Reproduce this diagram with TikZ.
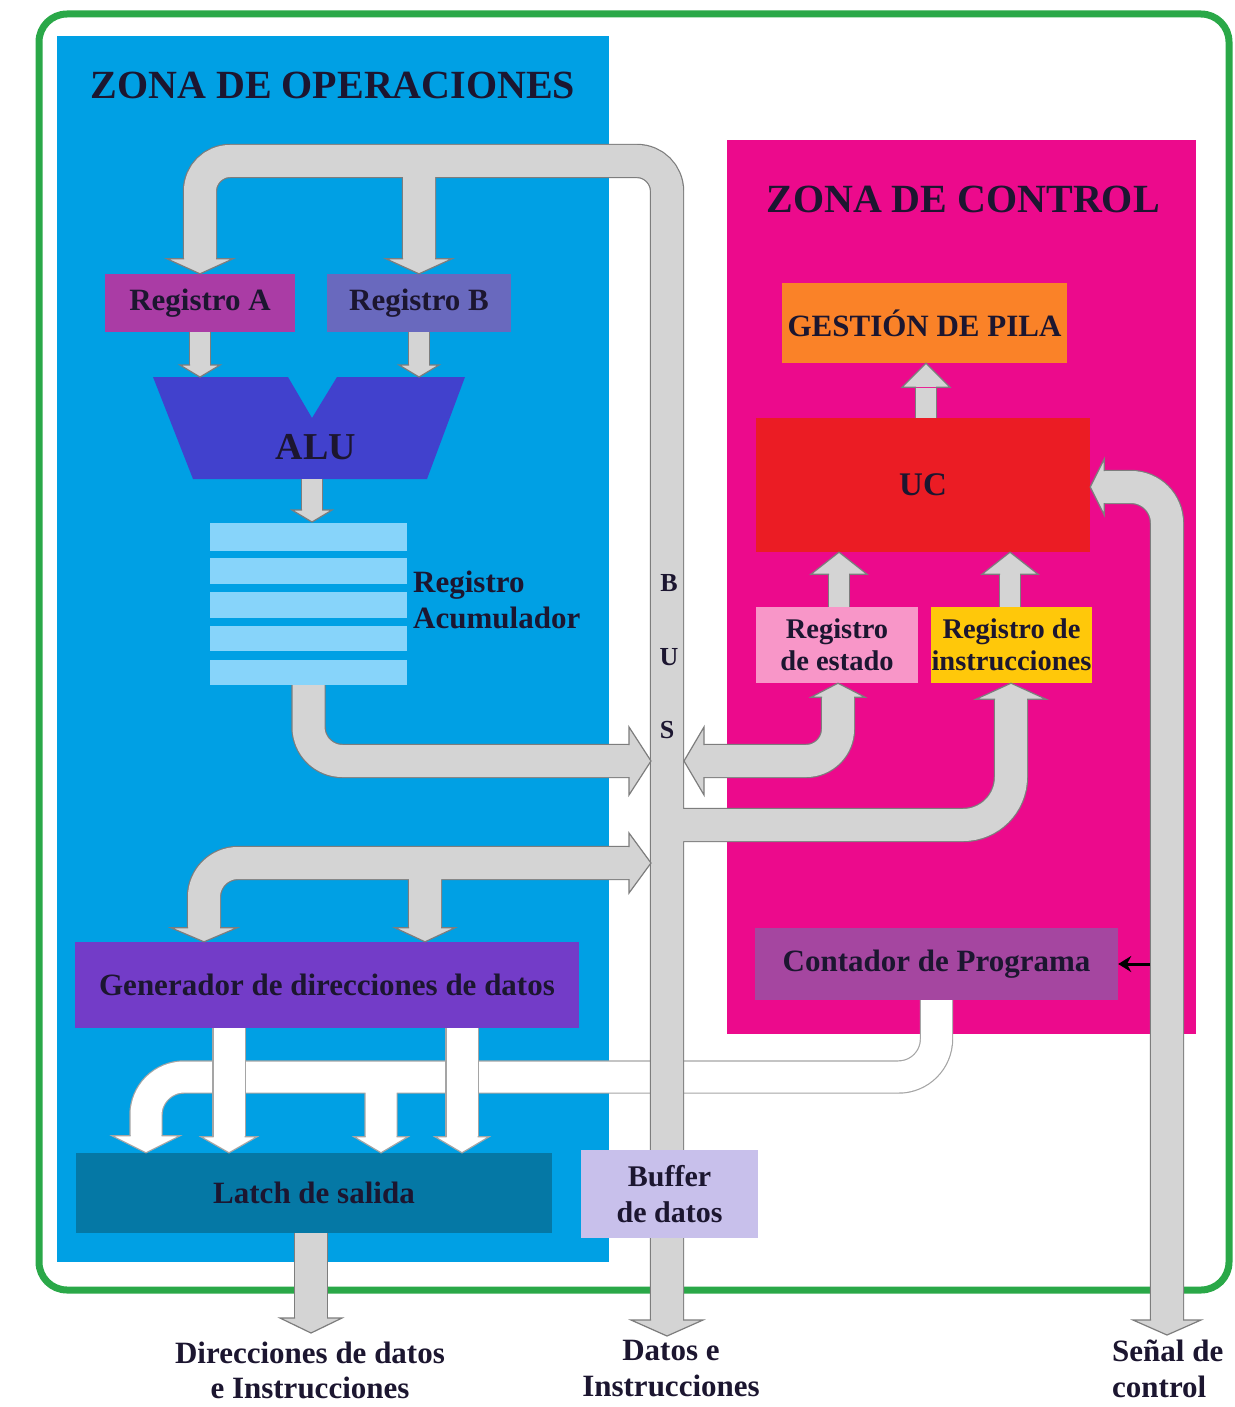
\documentclass[tikz,border=0pt]{standalone}
\usepackage{fontspec}
\setmainfont{Liberation Serif}
\usetikzlibrary{arrows.meta}

\definecolor{frame}{RGB}{42,168,72}
\definecolor{opzone}{RGB}{0,160,228}
\definecolor{ctrlzone}{RGB}{236,10,140}
\definecolor{regAcol}{RGB}{170,60,165}
\definecolor{regBcol}{RGB}{105,105,190}
\definecolor{alucol}{RGB}{65,65,205}
\definecolor{acccol}{RGB}{135,212,250}
\definecolor{gencol}{RGB}{115,60,200}
\definecolor{latchcol}{RGB}{5,120,165}
\definecolor{bufcol}{RGB}{200,192,235}
\definecolor{pilacol}{RGB}{250,130,40}
\definecolor{uccol}{RGB}{235,28,36}
\definecolor{estcol}{RGB}{248,150,200}
\definecolor{inscol}{RGB}{255,200,10}
\definecolor{pccol}{RGB}{165,70,160}
\definecolor{busgray}{RGB}{212,212,212}
\definecolor{busedge}{RGB}{125,125,125}
\definecolor{wedge}{RGB}{165,165,165}
\definecolor{ink}{RGB}{28,22,48}

\newcommand\setfs[2]{\fontsize{#1}{#2}\selectfont\bfseries}

\tikzset{
  hw/.store in=\ahw, hl/.store in=\ahl, sw/.store in=\asw,
  hfill/.store in=\ahfill, hedge/.store in=\ahedge,
  hw=32, hl=16, sw=16, hfill=busgray, hedge=busedge,
  % block arrow head: tip at the origin, pointing down
  ahead/.pic={
    \fill[fill=\ahfill] (0,0) -- (-\ahw,-\ahl) -- (\ahw,-\ahl) -- cycle;
    \draw[draw=\ahedge, line width=1.2pt, line join=miter]
      (-\asw,-\ahl) -- (-\ahw,-\ahl) -- (0,0) -- (\ahw,-\ahl) -- (\asw,-\ahl);
  },
  whitehead/.style={hfill=white, hedge=wedge, sw=15.5},
  thinhead/.style={sw=10},
  pipe/.style={draw=busedge, line width=34.4pt, postaction={draw=busgray, line width=32pt}},
  thinpipe/.style={draw=busedge, line width=22.4pt, postaction={draw=busgray, line width=20pt}},
  whitepipe/.style={draw=wedge, line width=33.4pt, postaction={draw=white, line width=31pt}},
  box/.style={rectangle, inner sep=0pt, align=center, text=ink, font=\setfs{31}{36}},
  txt/.style={inner sep=0pt, align=center, text=ink, font=\setfs{31}{36}},
}

\begin{document}
\begin{tikzpicture}[x=1pt, y=-1pt]
\useasboundingbox (0,0) rectangle (1234,1407);
\fill[white] (0,0) rectangle (1234,1407);
\draw[frame, line width=7pt, rounded corners=28pt] (39,14) rectangle (1229,1290);

% zones
\node[fill=opzone, minimum width=552pt, minimum height=1226pt, inner sep=0pt] (ops) at (333,649) {};
\node[fill=ctrlzone, minimum width=469pt, minimum height=894pt, inner sep=0pt] (ctrl) at (961.5,587) {};
\node[txt, font=\setfs{40}{44}] (t1) at (333,85) {ZONA DE OPERACIONES};
\node[txt, font=\setfs{40}{44}] (t2) at (963,199) {ZONA DE CONTROL};

% operation blocks
\node[box, fill=regAcol, minimum width=190pt, minimum height=58pt] (ra) at (200,303) {Registro A};
\node[box, fill=regBcol, minimum width=184pt, minimum height=58pt] (rb) at (419,303) {Registro B};
\fill[alucol] (153,377) -- (288,377) -- (312,418) -- (337,377) -- (465,377) -- (427,479) -- (193,479) -- cycle;
\node[txt, font=\setfs{38}{42}] (alu) at (316,447) {ALU};
\foreach \ya/\yb in {523/551, 558/584, 592/618, 626/651, 660/685}
  \fill[acccol] (210,\ya) rectangle (407,\yb);
\node[inner sep=0pt, minimum width=197pt, minimum height=162pt] (acc) at (308.5,604) {};
\node[txt, align=left, anchor=west] (acclbl) at (413,600) {Registro\\Acumulador};
\node[box, fill=gencol, minimum width=504pt, minimum height=86pt] (gen) at (327,985) {Generador de direcciones de datos};
\node[box, fill=latchcol, minimum width=476pt, minimum height=80pt] (latch) at (314,1193) {Latch de salida};

% control blocks
\node[box, fill=pilacol, minimum width=285pt, minimum height=80pt] (pila) at (924.5,323) {GESTIÓN DE PILA};
\node[box, fill=uccol, minimum width=334pt, minimum height=134pt, font=\setfs{33}{36}] (uc) at (923,485) {UC};
\node[box, fill=estcol, minimum width=162pt, minimum height=76pt, font=\setfs{28.5}{32}] (est) at (837,645) {Registro\\de estado};
\node[box, fill=inscol, minimum width=161pt, minimum height=76pt, font=\setfs{28.5}{32}] (ins) at (1011.5,645) {Registro de\\instrucciones};
\node[box, fill=pccol, minimum width=363pt, minimum height=72pt] (pc) at (936.5,964) {Contador de Programa};

% white address paths into the output latch
\draw[whitepipe, rounded corners=38pt] (pc.south) |- (146,1077) -- (146,1137)
      (381,1077) -- (381,1137);
\draw[whitepipe] (229,0 |- gen.south) -- (229,1137) (462,0 |- gen.south) -- (462,1137);
\pic[whitehead, hw=34, hl=17] at (146,0 |- latch.north) {ahead};
\pic[whitehead, hw=27, hl=16] at (381,0 |- latch.north) {ahead};
\pic[whitehead, hw=28, hl=16] at (229,0 |- latch.north) {ahead};
\pic[whitehead, hw=27, hl=16] at (462,0 |- latch.north) {ahead};

% data bus with its branches
\draw[pipe, rounded corners=30pt] (ra.north |- 0,260) |- (667,161) -- (667,1322)
      (rb.north |- 0,161) -- (rb.north |- 0,260)
      (667,825) [rounded corners=48pt] -- (1011,825) -- (1011,698);
\pic[hw=33, hl=15] at (ra.north) {ahead};
\pic[hw=33, hl=15] at (rb.north) {ahead};
\pic[hw=36, hl=16] at (667,1336) {ahead};
\pic[rotate=180, hw=35, hl=16] at (1011,0 |- ins.south) {ahead};

% accumulator to bus
\draw[pipe, rounded corners=34pt] (acc.south) |- (630,761);
\pic[rotate=90, hw=34, hl=22] at (651,761) {ahead};

% bus to status register
\draw[pipe, rounded corners=32pt] (704,761) -| (838,697);
\pic[rotate=-90, hw=34, hl=20] at (684,761) {ahead};
\pic[rotate=180, hw=27, hl=14] at (838,0 |- est.south) {ahead};

% bus to data address generator
\draw[pipe, rounded corners=34pt] (630,863) -| (204,928) (425,863) -- (425,928);
\pic[rotate=90, hw=30, hl=22] at (651,863) {ahead};
\pic[hw=33, hl=14] at (204,0 |- gen.north) {ahead};
\pic[hw=30, hl=14] at (425,0 |- gen.north) {ahead};

% short internal transfers
\draw[thinpipe] (ra.south) -- (200,366) (rb.south) -- (419,366) (312,479) -- (312,510)
      (926,0 |- uc.north) -- (926,388)
      (839,0 |- est.north) -- (839,574) (1010,0 |- ins.north) -- (1010,574);
\pic[thinhead, hw=20, hl=12] at (200,377) {ahead};
\pic[thinhead, hw=20, hl=12] at (419,377) {ahead};
\pic[thinhead, hw=20, hl=12] at (312,522) {ahead};
\pic[thinhead, rotate=180, hw=24, hl=24] at (926,0 |- pila.south) {ahead};
\pic[thinhead, rotate=180, hw=28, hl=22] at (839,0 |- uc.south) {ahead};
\pic[thinhead, rotate=180, hw=28, hl=22] at (1010,0 |- uc.south) {ahead};

% control signal line
\draw[pipe, rounded corners=36pt] (1167,1321) |- (1104,487);
\pic[hw=34, hl=15] at (1167,1335) {ahead};
\pic[rotate=-90, hw=28, hl=14] at (uc.east |- 0,487) {ahead};

% latch output
\draw[pipe] (311,0 |- latch.south) -- (311,1319);
\pic[hw=31, hl=15] at (311,1333) {ahead};

% data buffer and bus lettering
\node[box, fill=bufcol, minimum width=177pt, minimum height=88pt, font=\setfs{30}{36}] (buf) at (669.5,1194) {Buffer\\de datos};
\node[txt, font=\setfs{26}{30}] (lb) at (669,583) {B};
\node[txt, font=\setfs{26}{30}] (lu) at (669,657) {U};
\node[txt, font=\setfs{26}{30}] (ls) at (667,730) {S};

\draw[-{Stealth[length=13pt,width=16pt]}, line width=3pt, draw=black] (1150,964) -- (pc.east);

% external connections
\node[txt, font=\setfs{31}{35}] (outaddr) at (310,1370) {Direcciones de datos\\e Instrucciones};
\node[txt] (outdata) at (671,1369) {Datos e\\Instrucciones};
\node[txt, align=left, anchor=west] (outctl) at (1112,1369) {Señal de\\control};
\end{tikzpicture}
\end{document}
